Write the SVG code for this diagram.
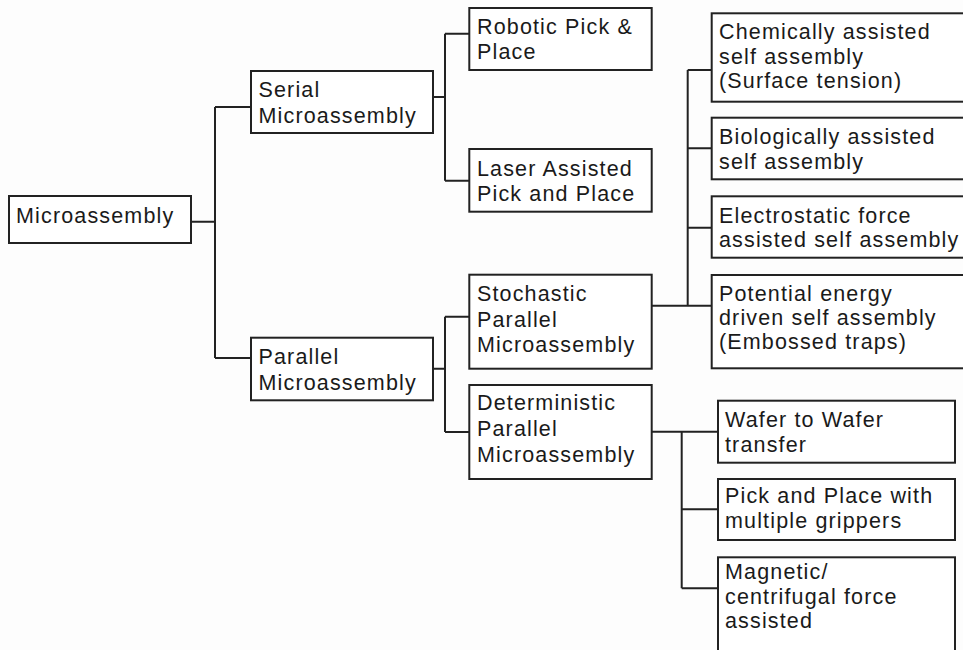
<svg xmlns="http://www.w3.org/2000/svg" width="963" height="650" viewBox="0 0 963 650">
<style>
.box{fill:#fff;stroke:#222;stroke-width:2}
.ln{fill:none;stroke:#222;stroke-width:2}
text{font-family:"Liberation Sans",Arial,sans-serif;font-size:21.5px;fill:#1a1a1a;letter-spacing:1.15px}
</style>
<rect width="963" height="650" fill="#fdfdfd"/>
<g id="connectors">
<path class="ln" d="M191,221.7H215M215,107V358M215,107H251M215,358H251"/>
<path class="ln" d="M433,97H445M445,33.7V180.7M445,33.7H469M445,180.7H469"/>
<path class="ln" d="M433,368.7H445M445,316.7V432M445,316.7H469M445,432H469"/>
<path class="ln" d="M652,305.7H712M687.7,70V305.7M687.7,70H712M687.7,148.3H712M687.7,227.7H712"/>
<path class="ln" d="M652,431.7H718M681.7,431.7V588.3M681.7,509.3H718M681.7,588.3H718"/>
</g>
<g id="n-micro"><rect class="box" x="9" y="196" width="182" height="47"/><text x="16" y="222.7">Microassembly</text></g>
<g id="n-serial"><rect class="box" x="251" y="71" width="182" height="62"/><text x="258.5" y="96.7">Serial</text><text x="258.5" y="123">Microassembly</text></g>
<g id="n-parallel"><rect class="box" x="251" y="337.7" width="182" height="62.6"/><text x="258.5" y="364.3">Parallel</text><text x="258.5" y="389.5">Microassembly</text></g>
<g id="n-robotic"><rect class="box" x="469.3" y="8" width="182.4" height="62"/><text x="477" y="34.3">Robotic Pick &amp;</text><text x="477" y="59.3">Place</text></g>
<g id="n-laser"><rect class="box" x="469.3" y="149" width="182.4" height="62.7"/><text x="477" y="176">Laser Assisted</text><text x="477" y="201">Pick and Place</text></g>
<g id="n-stochastic"><rect class="box" x="469.3" y="274.7" width="182.4" height="94"/><text x="477" y="300.7">Stochastic</text><text x="477" y="326.7">Parallel</text><text x="477" y="352.3">Microassembly</text></g>
<g id="n-deterministic"><rect class="box" x="469.3" y="385" width="182.4" height="94"/><text x="477" y="410">Deterministic</text><text x="477" y="436">Parallel</text><text x="477" y="461.7">Microassembly</text></g>
<g id="n-chem"><rect class="box" x="711.7" y="13.3" width="260" height="88.4"/><text x="719" y="39.3">Chemically assisted</text><text x="719" y="63.5">self assembly</text><text x="719" y="87.8">(Surface tension)</text></g>
<g id="n-bio"><rect class="box" x="711.7" y="117.7" width="260" height="61.6"/><text x="719" y="144.3">Biologically assisted</text><text x="719" y="168.5">self assembly</text></g>
<g id="n-electro"><rect class="box" x="711.7" y="196.3" width="260" height="61.4"/><text x="719" y="222.7">Electrostatic force</text><text x="719" y="247.3">assisted self assembly</text></g>
<g id="n-potential"><rect class="box" x="711.7" y="275" width="260" height="93.3"/><text x="719" y="300.7">Potential energy</text><text x="719" y="325">driven self assembly</text><text x="719" y="349">(Embossed traps)</text></g>
<g id="n-wafer"><rect class="box" x="718" y="400.7" width="237" height="62"/><text x="725" y="426.7">Wafer to Wafer</text><text x="725" y="451.7">transfer</text></g>
<g id="n-pick"><rect class="box" x="718" y="479" width="237" height="61"/><text x="725" y="502.7">Pick and Place with</text><text x="725" y="528.3">multiple grippers</text></g>
<g id="n-magnetic"><rect class="box" x="718" y="557.3" width="237" height="100"/><text x="725" y="579">Magnetic/</text><text x="725" y="604">centrifugal force</text><text x="725" y="628.3">assisted</text></g>
</svg>
